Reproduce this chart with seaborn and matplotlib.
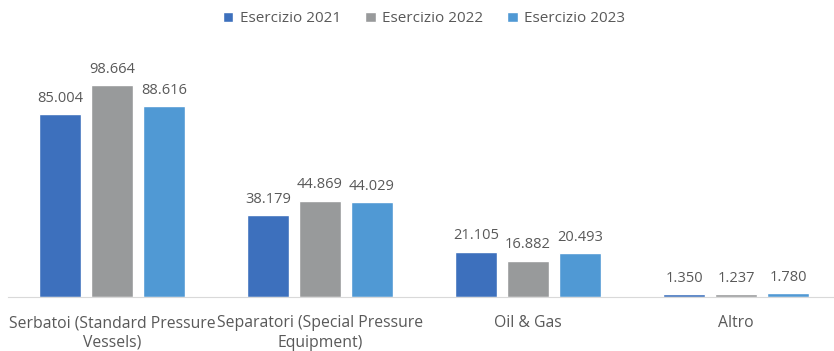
import pandas as pd
import matplotlib
matplotlib.use("Agg")
import matplotlib.pyplot as plt
import seaborn as sns

categories = ['Serbatoi (Standard Pressure\nVessels)', 'Separatori (Special Pressure\nEquipment)', 'Oil & Gas', 'Altro']
series = ['Esercizio 2021', 'Esercizio 2022', 'Esercizio 2023']
v2021 = [85004, 38179, 21105, 1350]
v2022 = [98664, 44869, 16882, 1237]
v2023 = [88616, 44029, 20493, 1780]
colors = ['#3D70BD', '#989A9B', '#5099D4']

rows = []
for s, vals in zip(series, [v2021, v2022, v2023]):
    for c, v in zip(categories, vals):
        rows.append({'Categoria': c, 'Serie': s, 'Valore': v})
data = pd.DataFrame(rows)

sns.set_style('white')
plt.rcParams['font.family'] = ['Open Sans', 'DejaVu Sans']
txt = '#595959'

fig = plt.figure(figsize=(8.34, 3.51), dpi=100)
ax = fig.add_axes([8 / 834, 54 / 351, 832 / 834, 258 / 351])

sns.barplot(data=data, x='Categoria', y='Valore', hue='Serie', order=categories,
            hue_order=series, palette=colors, width=0.75, gap=0.21,
            saturation=1, ax=ax)

for cont in ax.containers:
    labels = [f'{int(v):,}'.replace(',', '.') for v in cont.datavalues]
    ax.bar_label(cont, labels=labels, padding=6, fontsize=10.5, color=txt)

ax.set_xlim(-0.5, 3.5)
ax.set_ylim(0, 120000)
ax.set_xlabel('')
ax.set_ylabel('')
ax.set_yticks([])
for side in ['top', 'right', 'left']:
    ax.spines[side].set_visible(False)
ax.spines['bottom'].set_color('#D9D9D9')
ax.tick_params(axis='x', length=0, pad=13, labelsize=11.3, labelcolor=txt)
for lab in ax.get_xticklabels():
    lab.set_linespacing(1.3)

leg = ax.legend(loc='upper center', bbox_to_anchor=(0.5, 1.16), ncol=3, frameon=False,
                fontsize=11, handlelength=0.7, handleheight=0.7, handletextpad=0.4,
                columnspacing=1.6)
for t in leg.get_texts():
    t.set_color(txt)

fig.savefig('out.png', dpi=100)
